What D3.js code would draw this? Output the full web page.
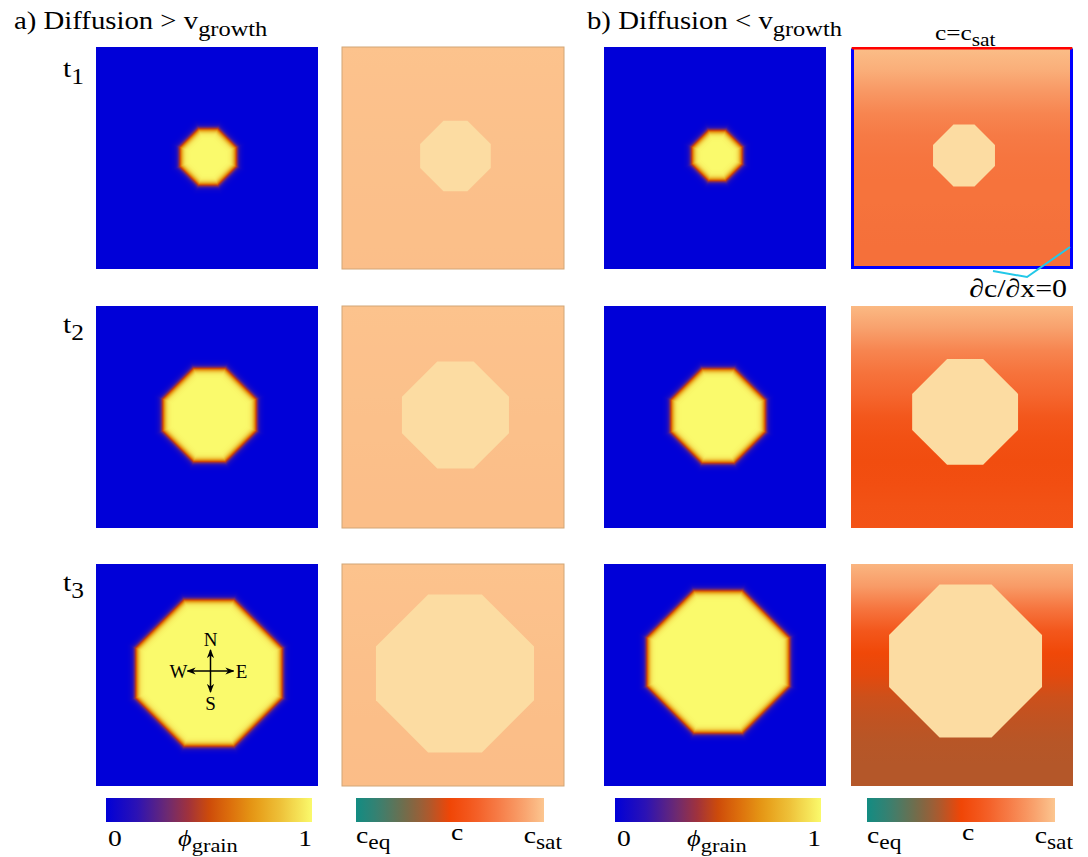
<!DOCTYPE html>
<html>
<head>
<meta charset="utf-8">
<script src="https://cdn.jsdelivr.net/npm/d3@7"></script>
<style>
  body { margin: 0; background: #fff; }
  text { font-family: "Liberation Serif", "Times New Roman", serif; fill: #000; }
</style>
</head>
<body>
<svg id="fig" width="1088" height="857"></svg>
<script>

// ---- data ----

var timeLabels = ["1", "2", "3"];

// grain octagons: [centre x, centre y, flat-to-flat width], as fractions of the domain
var grainPhiA  = [[0.505, 0.495, 0.279], [0.511, 0.491, 0.446], [0.509, 0.491, 0.685]];
var grainConcA = [[0.511, 0.491, 0.318], [0.511, 0.491, 0.482], [0.509, 0.493, 0.712]];
var grainPhiB  = [[0.509, 0.489, 0.252], [0.514, 0.495, 0.450], [0.514, 0.441, 0.667]];
var grainConcB = [[0.509, 0.489, 0.279], [0.514, 0.477, 0.477], [0.516, 0.437, 0.689]];

// concentration (0 = c_eq, 1 = c_sat) sampled down the domain, top to bottom
var profileDepth = [0, 0.1, 0.2, 0.3, 0.4, 0.5, 0.6, 0.7, 0.8, 0.9, 1];
var concProfileA = [
    [0.99, 0.988, 0.986, 0.985, 0.984, 0.983, 0.982, 0.98, 0.979, 0.978, 0.977],
    [0.99, 0.988, 0.986, 0.985, 0.984, 0.982, 0.981, 0.979, 0.977, 0.976, 0.975],
    [0.99, 0.988, 0.986, 0.984, 0.982, 0.98, 0.978, 0.976, 0.975, 0.974, 0.973]
];
var concProfileB = [
    [0.975, 0.93, 0.86, 0.79, 0.75, 0.73, 0.72, 0.72, 0.715, 0.71, 0.71],
    [0.96, 0.89, 0.79, 0.72, 0.67, 0.6, 0.56, 0.54, 0.55, 0.57, 0.58],
    [0.95, 0.87, 0.73, 0.6, 0.51, 0.48, 0.44, 0.42, 0.405, 0.4, 0.4]
];

// colour maps
var phiStops  = [0, 0.15, 0.3, 0.4, 0.5, 0.6, 0.72, 0.85, 1];
var phiColors = ["#0000d8", "#2c12b4", "#6e2a70", "#a0323c", "#cd4b0a", "#dc6e0c", "#e69a16", "#eec23a", "#fafa6c"];
var concStops  = [0, 0.12, 0.25, 0.38, 0.5, 0.62, 0.75, 0.88, 1];
var concColors = ["#128c82", "#3a8070", "#6e6e4e", "#a85a30", "#f04606", "#f45a20", "#f67a45", "#f89e6a", "#fcc690"];
var grainConcColor = "#fcdca2";

var octagonFlat = 0.34;   // flat side / flat-to-flat width

// ---- layout ----
var panelSize = 222;
var colX = [96, 342, 604, 851];
var rowY = [47, 306, 564];
var cbX = [106, 356, 615, 867], cbW = [206, 188, 206, 188], cbY = 798, cbH = 24;
var stretch = 1.15;

var svg = d3.select("#fig");
var defs = svg.append("defs");

var xScale = d3.scaleLinear().domain([0, 1]).range([0, panelSize]);
var yScale = d3.scaleLinear().domain([0, 1]).range([0, panelSize]);

var phiColor = d3.scaleLinear().domain(phiStops).range(phiColors).clamp(true);
var concColor = d3.scaleLinear().domain(concStops).range(concColors).clamp(true);

// lookup table for the phase field
var phiLut = d3.range(256).map(function (i) { return d3.rgb(phiColor(i / 255)); });

function octagonPoints(grain) {
    var cx = xScale(grain[0]), cy = yScale(grain[1]);
    var a = xScale(grain[2]) / 2, s = a * octagonFlat;
    return [[cx - s, cy - a], [cx + s, cy - a], [cx + a, cy - s], [cx + a, cy + s],
            [cx + s, cy + a], [cx - s, cy + a], [cx - a, cy + s], [cx - a, cy - s]];
}

function drawPhase(g, grain) {
    var canvas = document.createElement("canvas");
    canvas.width = panelSize;
    canvas.height = panelSize;
    var ctx = canvas.getContext("2d");
    var img = ctx.createImageData(panelSize, panelSize);
    var cx = xScale(grain[0]), cy = yScale(grain[1]);
    var a = xScale(grain[2]) / 2 - 3, b = a * (1 + octagonFlat);
    for (var j = 0; j < panelSize; j++) {
        for (var i = 0; i < panelSize; i++) {
            var px = Math.abs(i + 0.5 - cx), py = Math.abs(j + 0.5 - cy);
            var d = Math.max(px - a, py - a, (px + py - b) / Math.SQRT2);
            var phi = 0.5 * (1 - Math.tanh(d / 3.6));
            var c = phiLut[Math.round(phi * 255)];
            var k = (j * panelSize + i) * 4;
            img.data[k] = c.r; img.data[k + 1] = c.g; img.data[k + 2] = c.b; img.data[k + 3] = 255;
        }
    }
    ctx.putImageData(img, 0, 0);
    g.append("image")
        .attr("href", canvas.toDataURL())
        .attr("width", panelSize)
        .attr("height", panelSize);
}

function drawConc(g, grain, profile, id, border) {
    var grad = defs.append("linearGradient").attr("id", id)
        .attr("x1", 0).attr("y1", 0).attr("x2", 0).attr("y2", 1);
    grad.selectAll("stop").data(profile).enter().append("stop")
        .attr("offset", function (d, i) { return profileDepth[i]; })
        .attr("stop-color", function (d) { return concColor(d); });

    g.append("rect")
        .attr("width", panelSize).attr("height", panelSize)
        .attr("fill", "url(#" + id + ")")
        .attr("stroke", border ? "#d2a676" : "none")
        .attr("stroke-width", 1);

    g.append("polygon")
        .attr("points", octagonPoints(grain).map(function (p) { return p.join(","); }).join(" "))
        .attr("fill", grainConcColor);
}

// text with an optional subscript, slightly wide like the original
function label(x, y, main, sub, size, anchor, italicMain) {
    var t = svg.append("text")
        .attr("transform", "translate(" + x + "," + y + ") scale(" + stretch + ",1)")
        .attr("text-anchor", anchor || "start")
        .style("font-size", size + "px");
    t.append("tspan").text(main).style("font-style", italicMain ? "italic" : null);
    if (sub) {
        t.append("tspan").attr("dy", size * 0.26).style("font-size", (size * 0.85) + "px").text(sub);
    }
    return t;
}

// ---- panels ----
var columns = [
    { kind: "phi", grains: grainPhiA },
    { kind: "conc", grains: grainConcA, profiles: concProfileA, border: true },
    { kind: "phi", grains: grainPhiB },
    { kind: "conc", grains: grainConcB, profiles: concProfileB, border: false }
];

columns.forEach(function (col, ci) {
    rowY.forEach(function (ry, ri) {
        var g = svg.append("g").attr("transform", "translate(" + colX[ci] + "," + ry + ")");
        if (col.kind === "phi") drawPhase(g, col.grains[ri]);
        else drawConc(g, col.grains[ri], col.profiles[ri], "conc" + ci + ri, col.border);
    });
});

// boundary conditions on the first b) concentration panel
var bc = svg.append("g").attr("transform", "translate(" + colX[3] + "," + rowY[0] + ")");
bc.append("path")
    .attr("d", "M1.5,1.5 V" + (panelSize - 1.5) + " H" + (panelSize - 1.5) + " V1.5")
    .attr("fill", "none").attr("stroke", "#0000ff").attr("stroke-width", 3);
bc.append("line")
    .attr("x1", 1).attr("x2", panelSize - 1).attr("y1", 1.2).attr("y2", 1.2)
    .attr("stroke", "#ff0000").attr("stroke-width", 2.5);
svg.append("polyline")
    .attr("points", "1070,247 1027,277 993,271")
    .attr("fill", "none").attr("stroke", "#22c8e8").attr("stroke-width", 2);

label(935, 40, "c=c", "sat", 22, "start");
label(1067, 297, "\u2202c/\u2202x=0", null, 26, "end");

// ---- titles and time labels ----
label(14, 29, "a) Diffusion > v", "growth", 25, "start");
label(587, 29, "b) Diffusion < v", "growth", 25, "start");
var tBase = [77, 333, 591];
timeLabels.forEach(function (t, i) { label(63, tBase[i], "t", t, 26, "start"); });

// ---- compass on the last a) grain ----
var ccx = colX[0] + xScale(grainPhiA[2][0]) + 1.5, ccy = rowY[2] + yScale(grainPhiA[2][1]) - 2;
defs.append("marker").attr("id", "arrow")
    .attr("viewBox", "0 0 10 10").attr("refX", 9).attr("refY", 5)
    .attr("markerWidth", 6).attr("markerHeight", 6).attr("orient", "auto-start-reverse")
    .append("path").attr("d", "M0,1 L10,5 L0,9 L3,5 Z").attr("fill", "#000");
svg.append("line").attr("x1", ccx - 23).attr("x2", ccx + 23).attr("y1", ccy).attr("y2", ccy)
    .attr("stroke", "#000").attr("stroke-width", 1.5)
    .attr("marker-start", "url(#arrow)").attr("marker-end", "url(#arrow)");
svg.append("line").attr("x1", ccx).attr("x2", ccx).attr("y1", ccy - 21).attr("y2", ccy + 21)
    .attr("stroke", "#000").attr("stroke-width", 1.5)
    .attr("marker-start", "url(#arrow)").attr("marker-end", "url(#arrow)");
[["N", 0, -25], ["S", 0, 39], ["W", -32, 7], ["E", 31, 7]].forEach(function (c) {
    svg.append("text").attr("x", ccx + c[1]).attr("y", ccy + c[2])
        .attr("text-anchor", "middle").style("font-size", "19px").text(c[0]);
});

// ---- colour bars ----
var samples = d3.range(0, 1.0001, 0.05);
function colourBar(i, scale, id) {
    var grad = defs.append("linearGradient").attr("id", id);
    grad.selectAll("stop").data(samples).enter().append("stop")
        .attr("offset", function (d) { return d; })
        .attr("stop-color", function (d) { return scale(d); });
    svg.append("rect")
        .attr("x", cbX[i]).attr("y", cbY).attr("width", cbW[i]).attr("height", cbH)
        .attr("fill", "url(#" + id + ")");
}
var cbBase = 846;
[0, 2].forEach(function (i) {
    colourBar(i, phiColor, "cbPhi" + i);
    label(cbX[i] + 9, cbBase, "0", null, 24, "middle");
    label(cbX[i] + 72, cbBase, "\u03d5", "grain", 23, "start", true);
    label(cbX[i] + cbW[i], cbBase, "1", null, 24, "end");
});
[1, 3].forEach(function (i) {
    colourBar(i, concColor, "cbConc" + i);
    label(cbX[i], cbBase - 3, "c", "eq", 24, "start");
    label(cbX[i] + 101, cbBase - 6, "c", null, 24, "middle");
    label(cbX[i] + cbW[i] + 18, cbBase - 3, "c", "sat", 24, "end");
});

</script>
</body>
</html>
